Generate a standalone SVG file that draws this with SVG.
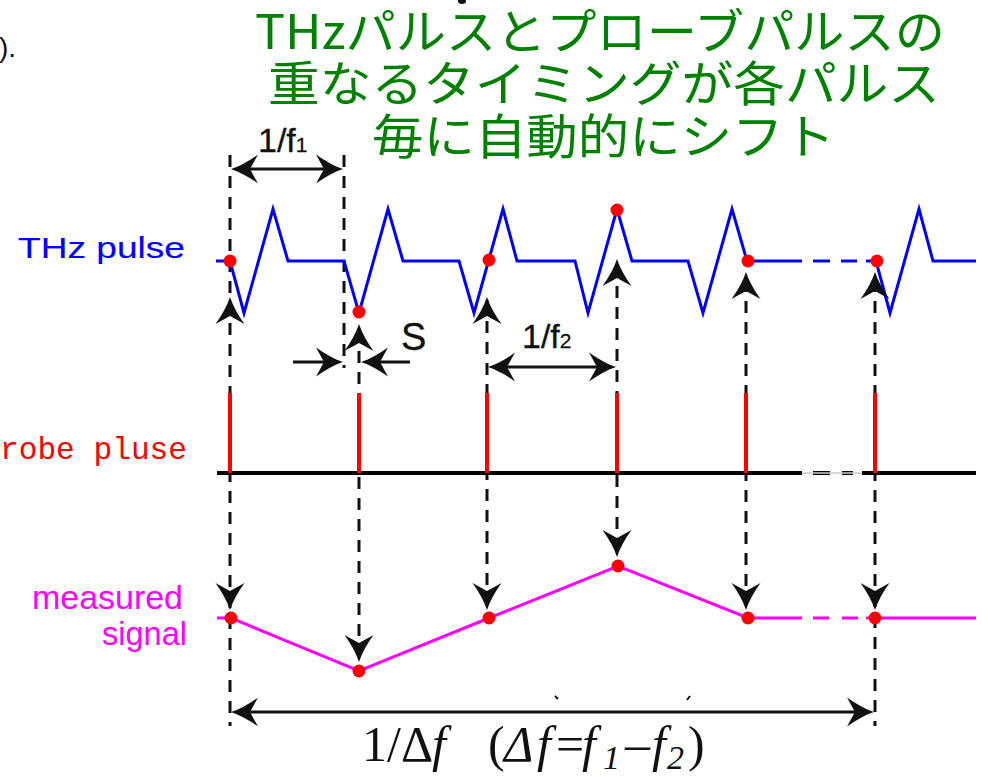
<svg xmlns="http://www.w3.org/2000/svg" xmlns:xlink="http://www.w3.org/1999/xlink" width="988" height="777" viewBox="0 0 988 777">
<style>
.title{font-family:"Noto Sans CJK JP","Noto Sans",sans-serif;font-size:48px;fill:#008000}
.lab{font-family:"Liberation Sans",Arial,sans-serif;fill:#111}
.dash{stroke:#111;stroke-width:3;stroke-dasharray:12 9;fill:none}
.thz{stroke:#0000ff;stroke-width:3;fill:none;stroke-linejoin:miter}
.sig{stroke:#ff00ff;stroke-width:3;fill:none}
.probe{stroke:#ff0000;stroke-width:4}
.base{stroke:#000;stroke-width:4;fill:none}
.dot{fill:#ff0000}
.arr{stroke:#111;stroke-width:3;fill:none}
.ah{fill:#111}
.eq{font-family:"Liberation Serif","Times New Roman",serif;font-size:50px;fill:#111}
</style>
<defs>
<path id="ah" d="M0,0 C3,9 8,18 14.5,27 L0,19 L-14.5,27 C-8,18 -3,9 0,0 Z"/>
<circle id="dt" r="6.5"/>
</defs>
<rect width="988" height="777" fill="#fff"/>

<text class="lab" x="-1" y="57" font-size="28" fill="#333">).</text>
<ellipse cx="462" cy="1" rx="4" ry="3" fill="#111"/>

<g id="title">
<text class="title" x="255" y="49" textLength="690" lengthAdjust="spacingAndGlyphs">THzパルスとプローブパルスの</text>
<text class="title" x="268" y="101" textLength="672" lengthAdjust="spacingAndGlyphs">重なるタイミングが各パルス</text>
<text class="title" x="372" y="154" textLength="463" lengthAdjust="spacingAndGlyphs">毎に自動的にシフト</text>
</g>

<g id="labels">
<text id="thz-label" x="18" y="258" font-family="Liberation Sans,Arial,sans-serif" font-size="30" fill="#0000ff" stroke="#0000ff" stroke-width="0.15" textLength="167" lengthAdjust="spacingAndGlyphs">THz pulse</text>
<text id="probe-label" x="0" y="459" font-family="Liberation Mono,Courier New,monospace" font-size="32" fill="#ff0000" textLength="187" lengthAdjust="spacingAndGlyphs">robe pluse</text>
<text id="sig-label1" x="32" y="609" font-family="Liberation Sans,Arial,sans-serif" font-size="33" fill="#ff00ff" textLength="151" lengthAdjust="spacingAndGlyphs">measured</text>
<text id="sig-label2" x="102" y="645" font-family="Liberation Sans,Arial,sans-serif" font-size="33" fill="#ff00ff" textLength="85" lengthAdjust="spacingAndGlyphs">signal</text>
</g>

<g id="connectors">
<line class="dash" x1="230" y1="155" x2="230" y2="726"/>
<line class="dash" x1="344" y1="155" x2="344" y2="368"/>
<line class="dash" x1="359" y1="330" x2="359" y2="650"/>
<line class="dash" x1="487" y1="300" x2="487" y2="600"/>
<line class="dash" x1="617" y1="265" x2="617" y2="545"/>
<line class="dash" x1="746" y1="280" x2="746" y2="600"/>
<line class="dash" x1="875" y1="280" x2="875" y2="726"/>
</g>

<g id="thz-pulse">
<polyline class="thz" points="216,261 230,261 244,313 273,209 288,261 344,261 359,313 388,209 403,261 459,261 474,313 503,209 517,261 575,261 588,313 617,209 632,261 688,261 703,313 732,209 747,261 802,261"/>
<path class="thz" d="M813,261 H830 M841,261 H857 M866,261 H876 L890,313 L919,209 L933,261 H976"/>
<use href="#dt" class="dot" x="230" y="261"/>
<use href="#dt" class="dot" x="359" y="312"/>
<use href="#dt" class="dot" x="489" y="260"/>
<use href="#dt" class="dot" x="617" y="210"/>
<use href="#dt" class="dot" x="748" y="261"/>
<use href="#dt" class="dot" x="877" y="261"/>
</g>

<g id="probe-pulse">
<path class="base" d="M217,473 H802 M813,473 H830 M842,473 H853 M862,473 H976"/>
<line x1="802" y1="473" x2="862" y2="473" stroke="#ccc" stroke-width="1.5"/>
<line class="probe" x1="230" y1="393" x2="230" y2="473"/>
<line class="probe" x1="359" y1="393" x2="359" y2="473"/>
<line class="probe" x1="487" y1="393" x2="487" y2="473"/>
<line class="probe" x1="617" y1="393" x2="617" y2="473"/>
<line class="probe" x1="746" y1="393" x2="746" y2="473"/>
<line class="probe" x1="875" y1="393" x2="875" y2="473"/>
</g>

<g id="measured-signal">
<polyline class="sig" points="217,618 231,618 359,671 489,618 618,566 748,618 802,618"/>
<path class="sig" d="M813,618 H829 M842,618 H858 M866,618 H976"/>
<use href="#dt" class="dot" x="231" y="618"/>
<use href="#dt" class="dot" x="359" y="671"/>
<use href="#dt" class="dot" x="489" y="618"/>
<use href="#dt" class="dot" x="618" y="566"/>
<use href="#dt" class="dot" x="748" y="618"/>
<use href="#dt" class="dot" x="875" y="618"/>
</g>

<g id="arrowheads" class="ah">
<use href="#ah" transform="translate(230,297)"/>
<use href="#ah" transform="translate(359,324)"/>
<use href="#ah" transform="translate(487,297)"/>
<use href="#ah" transform="translate(617,259)"/>
<use href="#ah" transform="translate(746,272)"/>
<use href="#ah" transform="translate(875,272)"/>
<use href="#ah" transform="translate(230,610) rotate(180)"/>
<use href="#ah" transform="translate(359,662) rotate(180)"/>
<use href="#ah" transform="translate(487,610) rotate(180)"/>
<use href="#ah" transform="translate(617,557) rotate(180)"/>
<use href="#ah" transform="translate(746,610) rotate(180)"/>
<use href="#ah" transform="translate(875,610) rotate(180)"/>
</g>

<g id="dim-f1">
<line class="arr" x1="240" y1="169" x2="334" y2="169"/>
<use href="#ah" class="ah" transform="translate(231,169) rotate(-90)"/>
<use href="#ah" class="ah" transform="translate(343,169) rotate(90)"/>
<text class="lab" x="258" y="152" font-size="34" stroke="#111" stroke-width="0.3">1/f<tspan font-size="21">1</tspan></text>
</g>

<g id="dim-s">
<line class="arr" x1="293" y1="362" x2="335" y2="362"/>
<use href="#ah" class="ah" transform="translate(343,362) rotate(90)"/>
<line class="arr" x1="368" y1="362" x2="410" y2="362"/>
<use href="#ah" class="ah" transform="translate(361,362) rotate(-90)"/>
<text class="lab" x="401" y="350" font-size="38" stroke="#111" stroke-width="0.3">S</text>
</g>

<g id="dim-f2">
<line class="arr" x1="497" y1="367" x2="607" y2="367"/>
<use href="#ah" class="ah" transform="translate(488,367) rotate(-90)"/>
<use href="#ah" class="ah" transform="translate(616,367) rotate(90)"/>
<text class="lab" x="522" y="348" font-size="34" stroke="#111" stroke-width="0.3">1/f<tspan font-size="21">2</tspan></text>
</g>

<g id="dim-df">
<line class="arr" x1="240" y1="712" x2="865" y2="712"/>
<use href="#ah" class="ah" transform="translate(231,712) rotate(-90)"/>
<use href="#ah" class="ah" transform="translate(874,712) rotate(90)"/>
<path d="M555,696 L558,699 M690,696 L687,700" stroke="#111" stroke-width="2"/>
<text class="eq" y="761"><tspan x="362">1/Δ</tspan><tspan x="432" font-style="italic">f</tspan><tspan x="488">(</tspan><tspan x="504" font-style="italic">Δ</tspan><tspan x="537" font-style="italic">f</tspan><tspan x="556">=</tspan><tspan x="582" font-style="italic">f</tspan><tspan x="603" y="769" font-size="34" font-style="italic">1</tspan><tspan x="625" y="761">–</tspan><tspan x="652" font-style="italic">f</tspan><tspan x="667" y="769" font-size="34" font-style="italic">2</tspan><tspan x="688" y="761">)</tspan></text>
</g>
</svg>
